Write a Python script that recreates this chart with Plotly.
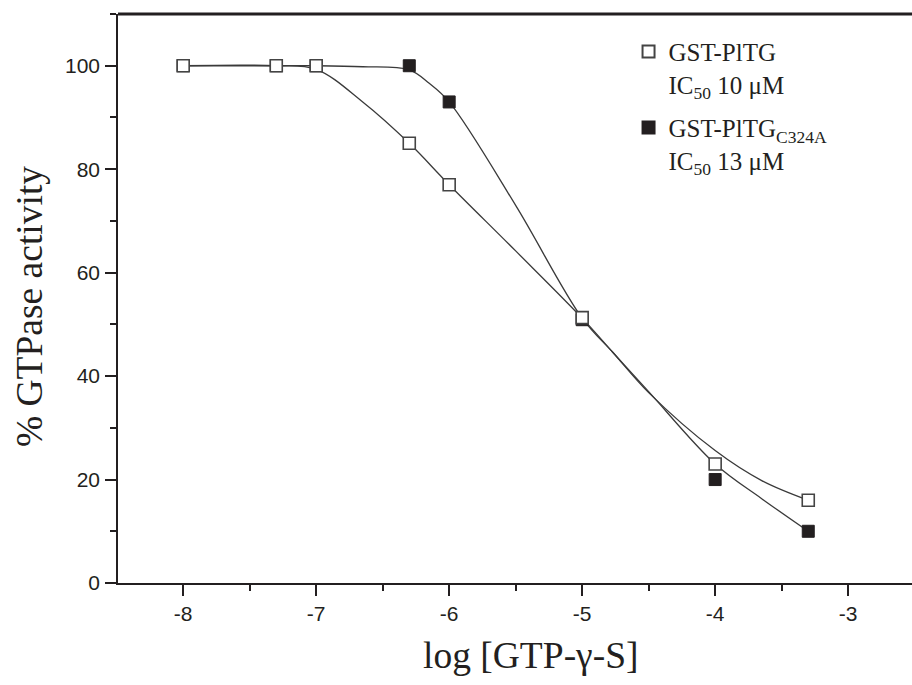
import plotly.graph_objects as go

# ---- data ----
log_conc = [-8, -7.3, -7.0, -6.3, -6.0, -5.0, -4.0, -3.3]
wt_activity = [100, 100, 100, 85, 77, 51.3, 23, 16]          # GST-PlTG (open squares)
mut_activity = [100, 100, 100, 100, 93, 50.9, 20, 10]        # GST-PlTG C324A (filled squares)

# fitted curves
wt_fit_x = [-8, -7.3, -7.0, -6.65, -6.3, -6.0, -5.5, -5.0, -4.77, -4.5, -4.0, -3.65, -3.3]
wt_fit_y = [100, 100, 99.3, 93, 85, 77, 64.2, 51.2, 44.6, 36.8, 25.6, 19.8, 16]
mut_fit_x = [-8, -7.3, -7.0, -6.65, -6.3, -6.15, -6.0, -5.5, -5.0, -4.77, -4.5, -4.0, -3.65, -3.3]
mut_fit_y = [100, 100, 100, 99.8, 99.2, 96.6, 93, 73, 51.2, 44.6, 37, 23, 16.3, 10]

x_ticks = [-8, -7, -6, -5, -4, -3]
y_ticks = [0, 20, 40, 60, 80, 100]

names = ["GST-PlTG<br>IC<sub>50</sub> 10 μM",
         "GST-PlTG<sub>C324A</sub><br>IC<sub>50</sub> 13 μM"]

INK = "#231f20"
SERIF = "Liberation Serif, Times New Roman, serif"
SANS = "Liberation Sans, Arial, sans-serif"

fig = go.Figure()

fig.add_trace(go.Scatter(x=wt_fit_x, y=wt_fit_y, mode="lines", showlegend=False,
                         line=dict(color="#3a3a3a", width=1.3, shape="spline", smoothing=1.0),
                         hoverinfo="skip"))
fig.add_trace(go.Scatter(x=mut_fit_x, y=mut_fit_y, mode="lines", showlegend=False,
                         line=dict(color="#3a3a3a", width=1.3, shape="spline", smoothing=1.0),
                         hoverinfo="skip"))

fig.add_trace(go.Scatter(x=log_conc, y=mut_activity, mode="markers", name=names[1],
                         marker=dict(symbol="square", size=12, color=INK,
                                     line=dict(color=INK, width=1)),
                         legendrank=2, legendgroup="mut"))
fig.add_trace(go.Scatter(x=log_conc, y=wt_activity, mode="markers", name=names[0],
                         marker=dict(symbol="square", size=12, color="white",
                                     line=dict(color="#444444", width=1.6)),
                         legendrank=1, legendgroup="wt"))

fig.update_xaxes(range=[-8.49, -2.52], tickvals=x_ticks, ticktext=[str(v) for v in x_ticks],
                 ticks="outside", ticklen=11, tickwidth=1.5, tickcolor=INK,
                 showline=True, linewidth=1.5, linecolor=INK, showgrid=False, zeroline=False,
                 minor=dict(dtick=0.5, tick0=-8.5, ticks="outside", ticklen=6, tickwidth=1.5,
                            tickcolor=INK, showgrid=False),
                 tickfont=dict(family=SANS, size=21, color=INK))
fig.update_yaxes(range=[0, 110], tickvals=y_ticks,
                 ticks="outside", ticklen=11, tickwidth=1.5, tickcolor=INK,
                 showline=True, linewidth=1.5, linecolor=INK, showgrid=False, zeroline=False,
                 minor=dict(dtick=10, tick0=0, ticks="outside", ticklen=6, tickwidth=1.5,
                            tickcolor=INK, showgrid=False),
                 tickfont=dict(family=SANS, size=21, color=INK), ticklabelstandoff=1)

fig.add_shape(type="line", xref="paper", yref="paper", x0=0, x1=1, y0=1, y1=1,
              line=dict(color=INK, width=3))

fig.add_annotation(text="log [GTP-γ-S]", xref="paper", yref="paper", x=0.52, y=-0.128,
                   xanchor="center", yanchor="middle", showarrow=False,
                   font=dict(family=SERIF, size=37.5, color=INK))
fig.add_annotation(text="% GTPase activity", xref="paper", yref="paper", x=-0.112, y=0.485,
                   xanchor="center", yanchor="middle", showarrow=False, textangle=-90,
                   font=dict(family=SERIF, size=37.5, color=INK))

fig.update_layout(
    width=912, height=685,
    margin=dict(l=118, r=0, t=14, b=102),
    paper_bgcolor="white", plot_bgcolor="white",
    legend=dict(x=0.643, y=0.974, xanchor="left", yanchor="top",
                font=dict(family=SERIF, size=25, color=INK),
                bgcolor="rgba(0,0,0,0)", tracegroupgap=8, valign="top",
                itemsizing="constant"),
    showlegend=True,
)

fig.write_html("out.html")
